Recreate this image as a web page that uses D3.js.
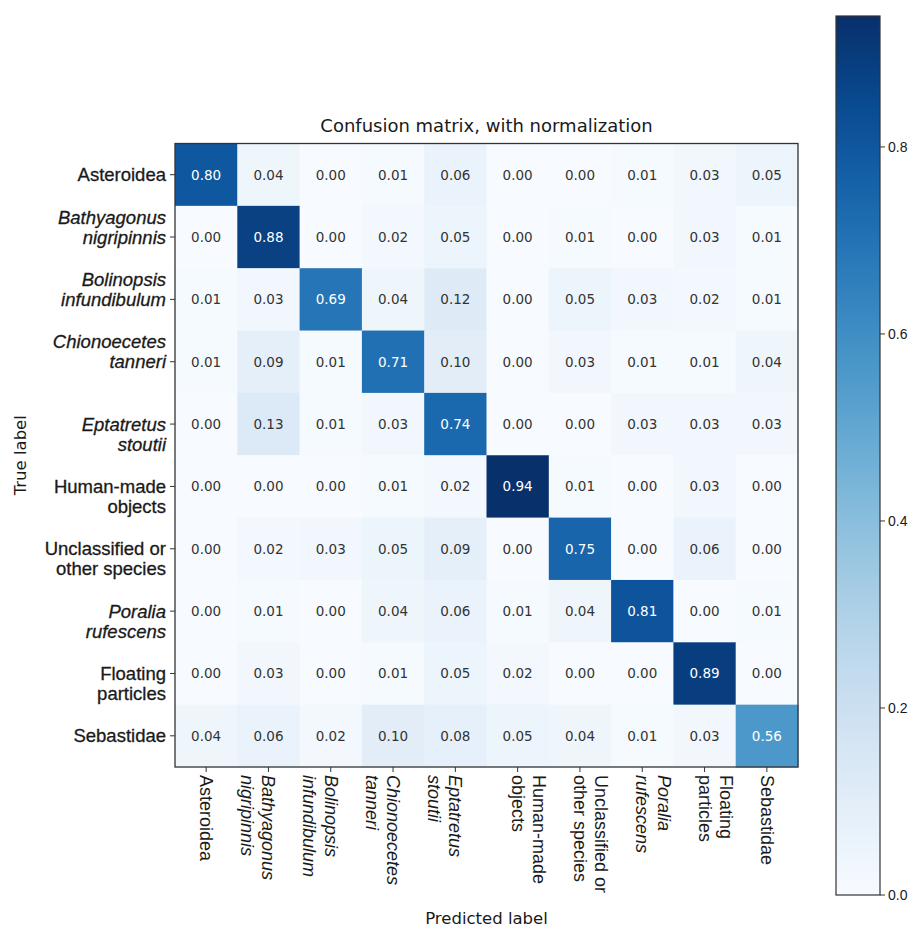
<!DOCTYPE html>
<html>
<head>
<meta charset="utf-8">
<script src="https://cdn.jsdelivr.net/npm/d3@7/dist/d3.min.js"></script>
<style>
  html, body { margin: 0; padding: 0; background: #fff; }
  svg { display: block; }
</style>
</head>
<body>
<svg id="chart" width="912" height="927"></svg>
<script>
// Class names, one entry per line of the tick label
const classLines = [
  ["Asteroidea"],
  ["Bathyagonus", "nigripinnis"],
  ["Bolinopsis", "infundibulum"],
  ["Chionoecetes", "tanneri"],
  ["Eptatretus", "stoutii"],
  ["Human-made", "objects"],
  ["Unclassified or", "other species"],
  ["Poralia", "rufescens"],
  ["Floating", "particles"],
  ["Sebastidae"]
];
// Species names are set in italics
const classItalic = [false, true, true, true, true, false, false, true, false, false];
// Which line of each label sits on the tick
const rowTickLine = [0, 1, 1, 1, 0, 0, 0, 0, 0, 0];
const colTickLine = [0, 0, 0, 0, 0, 1, 1, 1, 1, 0];

// Normalized confusion matrix (rows: true label, columns: predicted label)
const matrix = [
  [0.80, 0.04, 0.00, 0.01, 0.06, 0.00, 0.00, 0.01, 0.03, 0.05],
  [0.00, 0.88, 0.00, 0.02, 0.05, 0.00, 0.01, 0.00, 0.03, 0.01],
  [0.01, 0.03, 0.69, 0.04, 0.12, 0.00, 0.05, 0.03, 0.02, 0.01],
  [0.01, 0.09, 0.01, 0.71, 0.10, 0.00, 0.03, 0.01, 0.01, 0.04],
  [0.00, 0.13, 0.01, 0.03, 0.74, 0.00, 0.00, 0.03, 0.03, 0.03],
  [0.00, 0.00, 0.00, 0.01, 0.02, 0.94, 0.01, 0.00, 0.03, 0.00],
  [0.00, 0.02, 0.03, 0.05, 0.09, 0.00, 0.75, 0.00, 0.06, 0.00],
  [0.00, 0.01, 0.00, 0.04, 0.06, 0.01, 0.04, 0.81, 0.00, 0.01],
  [0.00, 0.03, 0.00, 0.01, 0.05, 0.02, 0.00, 0.00, 0.89, 0.00],
  [0.04, 0.06, 0.02, 0.10, 0.08, 0.05, 0.04, 0.01, 0.03, 0.56]
];

const colorbarTicks = [0.0, 0.2, 0.4, 0.6, 0.8];

const titleText = "Confusion matrix, with normalization";
const xTitle = "Predicted label";
const yTitle = "True label";

// ---- layout ----
const svg = d3.select("#chart");
const plot = { left: 175, right: 798, top: 143.5, bottom: 767 };
const cbar = { left: 836, right: 880, top: 16, bottom: 895 };

const n = classLines.length;
const idx = d3.range(n);
const vmax = d3.max(matrix.flat());

const x = d3.scaleBand().domain(idx).range([plot.left, plot.right]).padding(0);
const y = d3.scaleBand().domain(idx).range([plot.top, plot.bottom]).padding(0);
const color = d3.scaleSequential(d3.interpolateBlues).domain([0, vmax]);
const thresh = vmax / 2;

const labelFont = "'Liberation Sans', Arial, sans-serif";
const mainFont = "'DejaVu Sans', sans-serif";
const inkColor = "#1a1a1a";

// ---- cells ----
const cells = idx.flatMap(r => idx.map(c => ({ r, c, v: matrix[r][c] })));

svg.append("g").selectAll("rect")
  .data(cells)
  .join("rect")
  .attr("x", d => x(d.c))
  .attr("y", d => y(d.r))
  .attr("width", x.bandwidth() + 0.5)
  .attr("height", y.bandwidth() + 0.5)
  .attr("fill", d => color(d.v));

svg.append("g").selectAll("text")
  .data(cells)
  .join("text")
  .attr("x", d => x(d.c) + x.bandwidth() / 2)
  .attr("y", d => y(d.r) + y.bandwidth() / 2)
  .attr("text-anchor", "middle")
  .attr("dominant-baseline", "central")
  .attr("font-family", mainFont)
  .attr("font-size", 13.5)
  .attr("fill", d => d.v > thresh ? "#ffffff" : "#333333")
  .text(d => d3.format(".2f")(d.v));

// frame
svg.append("rect")
  .attr("x", plot.left).attr("y", plot.top)
  .attr("width", plot.right - plot.left).attr("height", plot.bottom - plot.top)
  .attr("fill", "none").attr("stroke", "#333").attr("stroke-width", 1.3);

// ---- y axis (true label) ----
const yAxis = svg.append("g");
const lh = 20;
idx.forEach(i => {
  const cy = y(i) + y.bandwidth() / 2;
  yAxis.append("line")
    .attr("x1", plot.left - 5).attr("x2", plot.left)
    .attr("y1", cy).attr("y2", cy)
    .attr("stroke", "#333").attr("stroke-width", 1);
  const t = yAxis.append("text")
    .attr("text-anchor", "end")
    .attr("font-family", labelFont)
    .attr("font-size", 18.5)
    .attr("font-style", classItalic[i] ? "italic" : "normal")
    .attr("fill", inkColor)
    .attr("stroke", inkColor)
    .attr("stroke-width", 0.3);
  classLines[i].forEach((line, k) => {
    t.append("tspan")
      .attr("x", plot.left - 9)
      .attr("y", cy + (k - rowTickLine[i]) * lh)
      .attr("dominant-baseline", "central")
      .text(line);
  });
});

// ---- x axis (predicted label), rotated labels ----
const xAxis = svg.append("g");
const lhx = 21.5;
idx.forEach(i => {
  const cx = x(i) + x.bandwidth() / 2;
  xAxis.append("line")
    .attr("x1", cx).attr("x2", cx)
    .attr("y1", plot.bottom).attr("y2", plot.bottom + 5)
    .attr("stroke", "#333").attr("stroke-width", 1);
  const g = xAxis.append("g")
    .attr("transform", `translate(${cx},${plot.bottom + 8}) rotate(90)`);
  const t = g.append("text")
    .attr("text-anchor", "start")
    .attr("font-family", labelFont)
    .attr("font-size", 18)
    .attr("font-style", classItalic[i] ? "italic" : "normal")
    .attr("fill", inkColor);
  classLines[i].forEach((line, k) => {
    t.append("tspan")
      .attr("x", 0)
      .attr("y", (k - colTickLine[i]) * lhx)
      .attr("dominant-baseline", "central")
      .text(line);
  });
});

// ---- titles ----
svg.append("text")
  .attr("x", (plot.left + plot.right) / 2)
  .attr("y", 125)
  .attr("text-anchor", "middle")
  .attr("dominant-baseline", "central")
  .attr("font-family", mainFont)
  .attr("font-size", 18)
  .attr("fill", inkColor)
  .text(titleText);

svg.append("text")
  .attr("x", (plot.left + plot.right) / 2)
  .attr("y", 918)
  .attr("text-anchor", "middle")
  .attr("dominant-baseline", "central")
  .attr("font-family", mainFont)
  .attr("font-size", 16.5)
  .attr("fill", inkColor)
  .text(xTitle);

svg.append("text")
  .attr("transform", `translate(20,${(plot.top + plot.bottom) / 2}) rotate(-90)`)
  .attr("text-anchor", "middle")
  .attr("dominant-baseline", "central")
  .attr("font-family", mainFont)
  .attr("font-size", 16.5)
  .attr("fill", inkColor)
  .text(yTitle);

// ---- colorbar ----
const cy = d3.scaleLinear().domain([0, vmax]).range([cbar.bottom, cbar.top]);
const defs = svg.append("defs");
const grad = defs.append("linearGradient")
  .attr("id", "cbarGrad")
  .attr("x1", 0).attr("y1", 1).attr("x2", 0).attr("y2", 0);
d3.range(0, 1.0001, 0.05).forEach(tv => {
  grad.append("stop")
    .attr("offset", tv)
    .attr("stop-color", color(tv * vmax));
});
svg.append("rect")
  .attr("x", cbar.left).attr("y", cbar.top)
  .attr("width", cbar.right - cbar.left).attr("height", cbar.bottom - cbar.top)
  .attr("fill", "url(#cbarGrad)")
  .attr("stroke", "#333").attr("stroke-width", 1.2);

const cAxis = svg.append("g");
colorbarTicks.forEach(tv => {
  const ty = cy(tv);
  cAxis.append("line")
    .attr("x1", cbar.right).attr("x2", cbar.right + 5)
    .attr("y1", ty).attr("y2", ty)
    .attr("stroke", "#333").attr("stroke-width", 1);
  cAxis.append("text")
    .attr("x", cbar.right + 8)
    .attr("y", ty)
    .attr("dominant-baseline", "central")
    .attr("font-family", labelFont)
    .attr("font-size", 14)
    .attr("fill", inkColor)
    .text(d3.format(".1f")(tv));
});
</script>
</body>
</html>
